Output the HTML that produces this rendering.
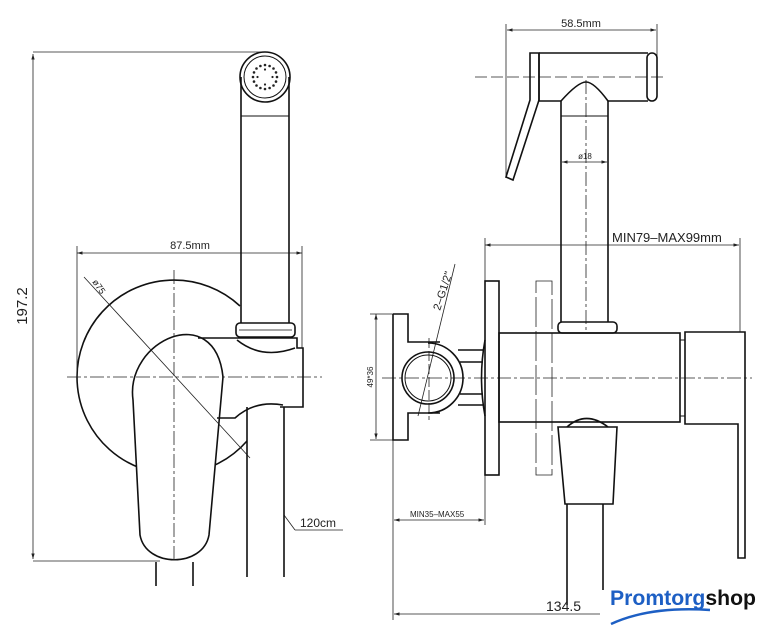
<!DOCTYPE html>
<html><head><meta charset="utf-8"><style>
html,body{margin:0;padding:0;background:#fff;}
svg{display:block;}
text{font-family:"Liberation Sans",sans-serif;fill:#222;}
</style></head><body>
<svg width="769" height="640" viewBox="0 0 769 640" xmlns="http://www.w3.org/2000/svg">
<defs>
<marker id="a" viewBox="0 0 10 10" refX="10" refY="5" markerWidth="7" markerHeight="7" orient="auto-start-reverse"><path d="M0,2 L10,5 L0,8 z" fill="#222"/></marker>
</defs>
<g fill="none" stroke="#111" stroke-width="1.6">
<path d="M240,306 A97,97 0 1 0 247,441"/>
<path d="M133,400 C125,340 215,300 223,377 L209,535 C203,568 146,568 140,535 Z" fill="#fff"/>
</g>
<g fill="none" stroke="#222" stroke-width="0.8">
<line x1="33" y1="52" x2="265" y2="52"/>
<line x1="33" y1="561" x2="160" y2="561"/>
<line x1="33" y1="54" x2="33" y2="559" marker-start="url(#a)" marker-end="url(#a)"/>
<line x1="77" y1="253" x2="302" y2="253" marker-start="url(#a)" marker-end="url(#a)"/>
<line x1="77" y1="246" x2="77" y2="377"/>
<line x1="302" y1="246" x2="302" y2="348"/>
<line x1="84" y1="277" x2="250" y2="458" />
<line x1="284" y1="515" x2="295" y2="530"/><line x1="295" y1="530" x2="343" y2="530"/>
<line x1="67" y1="377" x2="322" y2="377" stroke-dasharray="14,3,3,3"/>
<line x1="174" y1="270" x2="174" y2="560" stroke-dasharray="14,3,3,3"/>
<line x1="507" y1="30" x2="656" y2="30" marker-start="url(#a)" marker-end="url(#a)"/>
<line x1="506" y1="24" x2="506" y2="178"/>
<line x1="657" y1="24" x2="657" y2="70"/>
<line x1="562" y1="162" x2="607" y2="162" marker-start="url(#a)" marker-end="url(#a)"/>
<line x1="485" y1="245" x2="739" y2="245" marker-start="url(#a)" marker-end="url(#a)"/>
<line x1="485" y1="238" x2="485" y2="281"/>
<line x1="740" y1="238" x2="740" y2="332"/>
<line x1="376" y1="314" x2="376" y2="439" marker-start="url(#a)" marker-end="url(#a)"/>
<line x1="370" y1="314" x2="393" y2="314"/><line x1="370" y1="440" x2="393" y2="440"/>
<line x1="393" y1="440" x2="393" y2="620"/>
<line x1="394" y1="520" x2="484" y2="520" marker-start="url(#a)" marker-end="url(#a)"/>
<line x1="485" y1="475" x2="485" y2="525"/>
<line x1="394" y1="614" x2="600" y2="614" marker-start="url(#a)"/>
<line x1="418" y1="416" x2="455" y2="264"/>
<line x1="475" y1="77" x2="663" y2="77" stroke-dasharray="12,4"/>
<line x1="586" y1="80" x2="586" y2="330" stroke-dasharray="14,3,3,3"/>
<line x1="382" y1="378" x2="752" y2="378" stroke-dasharray="14,3,3,3"/>
<line x1="429" y1="338" x2="429" y2="420" stroke-dasharray="10,3"/>
<rect x="536" y="281" width="16" height="194" stroke-dasharray="30,4"/>
</g>
<g fill="none" stroke="#111" stroke-width="1.6">
<circle cx="265" cy="77" r="25"/><circle cx="265" cy="77" r="21" stroke-width="1"/>
<line x1="241" y1="77" x2="241" y2="323"/><line x1="289" y1="77" x2="289" y2="323"/>
<line x1="241" y1="116" x2="289" y2="116" stroke-width="1"/>
<rect x="236" y="323" width="59" height="14" rx="4"/>
<line x1="239" y1="330" x2="292" y2="330" stroke-width="0.8"/>
<path d="M198,338 L297,338 L297,348 L303,348 L303,407 L280,407"/>
<path d="M237,340 Q262,360 295,348"/>
<path d="M217,418 L235,418 Q255,400 283,405"/>
<path d="M156,562 L156,586 M193,562 L193,586"/>
<path d="M247,407 L247,577 M284,407 L284,577"/>
<path d="M539,53 L648,53 M539,101 L561,101 M608,101 L648,101 M539,53 L539,101"/>
<rect x="647" y="53" width="10" height="48" rx="5"/>
<path d="M530,53 L539,53 L539,100 L513,180 L506,177 L530,100 Z"/>
<path d="M561,101 Q578,82 586,82 Q594,82 608,101"/>
<line x1="561" y1="101" x2="561" y2="322"/><line x1="608" y1="101" x2="608" y2="322"/>
<line x1="561" y1="116" x2="608" y2="116" stroke-width="1"/>
<rect x="558" y="322" width="59" height="11" rx="4"/>
<rect x="485" y="281" width="14" height="194"/>
<rect x="499" y="333" width="181" height="89"/>
<rect x="680" y="340" width="5" height="76" stroke-width="1"/>
<path d="M685,332 L745,332 L745,558 L738,558 L738,424 L685,424 Z"/>
<path d="M558,427 L617,427 L613,504 L565,504 Z"/>
<path d="M567,427 Q586,410 608,427"/>
<path d="M567,504 L567,605 M603,504 L603,590"/>
<path d="M393,314 L408,314 L408,342 L440,342 M393,314 L393,440 L408,440 L408,413 L440,413"/>
<circle cx="428" cy="378" r="26"/><circle cx="428" cy="378" r="23" stroke-width="1"/>
<path d="M428,343 A35,35 0 0 1 428,413"/>
<path d="M458,350 L483,350 M458,405 L483,405 M460,362 L483,362 M460,394 L483,394"/>
<path d="M485,340 Q478,378 485,416"/>
</g>
<g fill="#222">
<g transform="translate(265,77)">
<circle cx="12" cy="0" r="1.3"/><circle cx="-12" cy="0" r="1.3"/><circle cx="0" cy="12" r="1.3"/><circle cx="0" cy="-12" r="1.3"/>
<circle cx="8.5" cy="8.5" r="1.3"/><circle cx="-8.5" cy="8.5" r="1.3"/><circle cx="8.5" cy="-8.5" r="1.3"/><circle cx="-8.5" cy="-8.5" r="1.3"/>
<circle cx="11" cy="4.6" r="1.3"/><circle cx="-11" cy="4.6" r="1.3"/><circle cx="11" cy="-4.6" r="1.3"/><circle cx="-11" cy="-4.6" r="1.3"/>
<circle cx="4.6" cy="11" r="1.3"/><circle cx="-4.6" cy="11" r="1.3"/><circle cx="4.6" cy="-11" r="1.3"/><circle cx="-4.6" cy="-11" r="1.3"/>
<circle cx="7.5" cy="0" r="1.1"/><circle cx="-7.5" cy="0" r="1.1"/><circle cx="0" cy="7.5" r="1.1"/><circle cx="0" cy="-7.5" r="1.1"/>
</g>
</g>
<text x="27" y="306" font-size="15" transform="rotate(-90 27 306)" text-anchor="middle">197.2</text>
<text x="190" y="249" font-size="11" text-anchor="middle">87.5mm</text>
<text x="92" y="282" font-size="9" transform="rotate(55 92 282)">ø75</text>
<text x="300" y="527" font-size="12">120cm</text>
<text x="581" y="27" font-size="11" text-anchor="middle">58.5mm</text>
<text x="585" y="159" font-size="8" text-anchor="middle">ø18</text>
<text x="612" y="242" font-size="13">MIN79–MAX99mm</text>
<text x="373" y="377" font-size="8" transform="rotate(-90 373 377)" text-anchor="middle">49*36</text>
<text x="440" y="311" font-size="11" transform="rotate(-72 440 311)">2–G1/2"</text>
<text x="410" y="517" font-size="8">MIN35–MAX55</text>
<text x="546" y="611" font-size="14">134.5</text>
<text x="610" y="605" font-size="21" font-weight="bold" textLength="146" lengthAdjust="spacingAndGlyphs" style="fill:#1d5fc4">Promtorg<tspan style="fill:#111">shop</tspan></text>
<path d="M611,624 Q650,606 710,610" fill="none" stroke="#1d5fc4" stroke-width="2.5"/>
</svg>
</body></html>
